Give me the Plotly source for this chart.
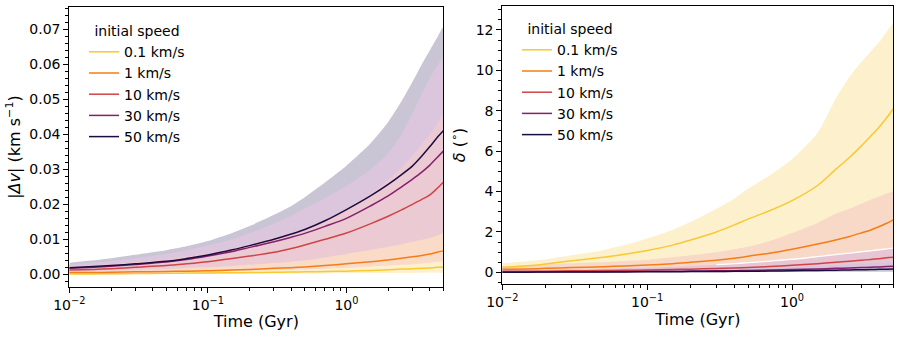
import math
import plotly.graph_objects as go

# ---------------- data ----------------
time_gyr = [0.01, 0.015, 0.02, 0.03, 0.05, 0.07, 0.1, 0.15, 0.2, 0.3, 0.4, 0.5,
            0.7, 1, 1.5, 2, 2.5, 3, 3.5, 4, 4.5, 5]
speed_labels = ["0.1 km/s", "1 km/s", "10 km/s", "30 km/s", "50 km/s"]
line_colors = ["#f8c932", "#f57d15", "#cf4446", "#84206c", "#1b0c41"]

# left panel |Δv| (km/s): median, upper, lower
dv_med_01 = [0.0001, 0.00012, 0.00015, 0.0002, 0.0003, 0.00035, 0.0004, 0.00045, 0.0005, 0.0006, 0.00065,
             0.0007, 0.0008, 0.0009, 0.0011, 0.0013, 0.0015, 0.0016, 0.0017, 0.0018, 0.0020, 0.0021]
dv_med_1 = [0.0005, 0.0005, 0.0006, 0.0007, 0.0008, 0.0009, 0.0010, 0.0012, 0.0014, 0.0017, 0.0019,
            0.0021, 0.0025, 0.0030, 0.0036, 0.0041, 0.0046, 0.0050, 0.0054, 0.0058, 0.0063, 0.0067]
dv_med_10 = [0.0012, 0.0014, 0.0016, 0.0020, 0.0025, 0.0030, 0.0036, 0.0045, 0.0052, 0.0063, 0.0074,
             0.0084, 0.0100, 0.0118, 0.0145, 0.0166, 0.0184, 0.0200, 0.0214, 0.0227, 0.0245, 0.0263]
dv_med_30 = [0.0017, 0.0020, 0.0023, 0.0028, 0.0035, 0.0042, 0.0052, 0.0065, 0.0077, 0.0093, 0.0106,
             0.0117, 0.0137, 0.0160, 0.0196, 0.0224, 0.0250, 0.0272, 0.0292, 0.0312, 0.0333, 0.0352]
dv_med_50 = [0.0019, 0.0022, 0.0025, 0.0030, 0.0037, 0.0045, 0.0055, 0.0070, 0.0082, 0.0100, 0.0115,
             0.0128, 0.0153, 0.0185, 0.0225, 0.0257, 0.0285, 0.0310, 0.0338, 0.0365, 0.0390, 0.0410]

dv_up_01 = [0.0003, 0.00035, 0.0004, 0.0005, 0.0006, 0.0007, 0.0008, 0.0009, 0.0010, 0.0012, 0.0013,
            0.0014, 0.0016, 0.0018, 0.0022, 0.0025, 0.0027, 0.0029, 0.0031, 0.0033, 0.0035, 0.0036]
dv_up_1 = [0.0009, 0.0010, 0.0011, 0.0013, 0.0015, 0.0018, 0.0020, 0.0024, 0.0027, 0.0032, 0.0036,
           0.0040, 0.0048, 0.0058, 0.0070, 0.0079, 0.0086, 0.0093, 0.0099, 0.0104, 0.0110, 0.0117]
dv_up_10 = [0.0022, 0.0026, 0.0029, 0.0035, 0.0043, 0.0051, 0.0060, 0.0074, 0.0085, 0.0105, 0.0118,
            0.0130, 0.0155, 0.0185, 0.0230, 0.0270, 0.0305, 0.0340, 0.0372, 0.0400, 0.0430, 0.0455]
dv_up_30 = [0.0028, 0.0033, 0.0038, 0.0046, 0.0058, 0.0069, 0.0082, 0.0100, 0.0117, 0.0145, 0.0167,
            0.0188, 0.0218, 0.0252, 0.0300, 0.0345, 0.0400, 0.0460, 0.0515, 0.0560, 0.0595, 0.0617]
dv_up_50 = [0.0033, 0.0040, 0.0046, 0.0056, 0.0069, 0.0080, 0.0095, 0.0118, 0.0138, 0.0170, 0.0195,
            0.0220, 0.0262, 0.0310, 0.0375, 0.0435, 0.0495, 0.0550, 0.0600, 0.0640, 0.0675, 0.0705]

dv_lo_01 = [0.00003, 0.00004, 0.00005, 0.00007, 0.00008, 0.0001, 0.0001, 0.00012, 0.00015, 0.0002, 0.0002,
            0.0002, 0.00025, 0.0003, 0.00035, 0.0004, 0.0004, 0.0004, 0.00045, 0.0005, 0.0005, 0.0005]
dv_lo_1 = [0.0001, 0.00012, 0.00015, 0.0002, 0.0002, 0.00025, 0.0003, 0.00035, 0.0004, 0.0005, 0.00055,
           0.0006, 0.0007, 0.0008, 0.00085, 0.0009, 0.00095, 0.0010, 0.0010, 0.0010, 0.0010, 0.0010]
dv_lo_10 = [0.0004, 0.00045, 0.0005, 0.0006, 0.0007, 0.0008, 0.0009, 0.0011, 0.0012, 0.0014, 0.0016,
            0.0017, 0.0019, 0.0022, 0.0025, 0.0028, 0.0030, 0.0032, 0.0034, 0.0035, 0.0037, 0.0038]
dv_lo_30 = [0.0006, 0.0007, 0.0008, 0.0009, 0.0011, 0.0013, 0.0016, 0.0019, 0.0022, 0.0026, 0.0029,
            0.0031, 0.0035, 0.0040, 0.0046, 0.0052, 0.0056, 0.0060, 0.0063, 0.0066, 0.0069, 0.0072]
dv_lo_50 = [0.0007, 0.0008, 0.0009, 0.0010, 0.0012, 0.0015, 0.0018, 0.0022, 0.0025, 0.0029, 0.0032,
            0.0035, 0.0040, 0.0046, 0.0054, 0.0060, 0.0065, 0.0070, 0.0074, 0.0078, 0.0082, 0.0085]

# right panel δ (deg): median, upper, lower
dl_med_01 = [0.25, 0.33, 0.42, 0.57, 0.75, 0.90, 1.08, 1.35, 1.60, 2.00, 2.35,
             2.65, 3.05, 3.55, 4.30, 5.10, 5.70, 6.25, 6.75, 7.20, 7.65, 8.10]
dl_med_1 = [0.15, 0.17, 0.20, 0.24, 0.28, 0.32, 0.36, 0.43, 0.50, 0.60, 0.70,
            0.80, 0.95, 1.15, 1.40, 1.60, 1.78, 1.95, 2.10, 2.27, 2.43, 2.60]
dl_med_10 = [0.05, 0.055, 0.06, 0.075, 0.09, 0.10, 0.12, 0.14, 0.16, 0.19, 0.22,
             0.24, 0.29, 0.35, 0.43, 0.50, 0.55, 0.60, 0.64, 0.68, 0.72, 0.75]
dl_med_30 = [0.02, 0.022, 0.025, 0.03, 0.035, 0.042, 0.05, 0.058, 0.065, 0.075, 0.085,
             0.095, 0.115, 0.14, 0.17, 0.20, 0.22, 0.24, 0.255, 0.27, 0.285, 0.30]
dl_med_50 = [0.01, 0.012, 0.014, 0.017, 0.02, 0.024, 0.028, 0.033, 0.038, 0.045, 0.05,
             0.055, 0.066, 0.08, 0.095, 0.11, 0.12, 0.13, 0.14, 0.15, 0.16, 0.17]

dl_up_01 = [0.45, 0.55, 0.65, 0.85, 1.10, 1.35, 1.68, 2.10, 2.50, 3.15, 3.65,
            4.15, 4.80, 5.60, 6.90, 8.60, 9.70, 10.40, 10.95, 11.40, 11.90, 12.30]
dl_up_1 = [0.30, 0.35, 0.40, 0.45, 0.50, 0.56, 0.62, 0.75, 0.85, 1.00, 1.15,
           1.27, 1.55, 1.95, 2.45, 2.90, 3.15, 3.40, 3.60, 3.75, 3.90, 4.00]
dl_up_10 = [0.10, 0.115, 0.13, 0.15, 0.18, 0.21, 0.24, 0.28, 0.32, 0.38, 0.43,
            0.48, 0.56, 0.65, 0.78, 0.88, 0.95, 1.02, 1.07, 1.12, 1.16, 1.20]
dl_up_30 = [0.05, 0.055, 0.06, 0.07, 0.08, 0.09, 0.10, 0.115, 0.13, 0.16, 0.18,
            0.20, 0.23, 0.27, 0.32, 0.37, 0.40, 0.43, 0.45, 0.47, 0.49, 0.50]
dl_up_50 = [0.025, 0.028, 0.032, 0.038, 0.045, 0.052, 0.06, 0.07, 0.08, 0.095, 0.105,
            0.115, 0.135, 0.16, 0.19, 0.22, 0.24, 0.26, 0.27, 0.28, 0.29, 0.30]

dl_lo_01 = [0.05, 0.065, 0.08, 0.11, 0.14, 0.17, 0.20, 0.25, 0.30, 0.37, 0.43,
            0.48, 0.56, 0.65, 0.80, 0.95, 1.05, 1.15, 1.22, 1.30, 1.38, 1.45]
dl_lo_1 = [0.03, 0.035, 0.04, 0.05, 0.06, 0.07, 0.08, 0.095, 0.11, 0.13, 0.15,
           0.17, 0.20, 0.24, 0.29, 0.33, 0.37, 0.40, 0.43, 0.46, 0.49, 0.52]
dl_lo_10 = [0.01, 0.012, 0.015, 0.018, 0.02, 0.025, 0.03, 0.035, 0.04, 0.05, 0.055,
            0.06, 0.075, 0.09, 0.11, 0.13, 0.14, 0.15, 0.16, 0.17, 0.18, 0.19]
dl_lo_30 = [0.0, 0.003, 0.005, 0.006, 0.008, 0.009, 0.01, 0.012, 0.015, 0.02, 0.022,
            0.025, 0.03, 0.035, 0.043, 0.05, 0.055, 0.06, 0.065, 0.07, 0.075, 0.08]
dl_lo_50 = [0.0, 0.001, 0.002, 0.003, 0.004, 0.005, 0.006, 0.007, 0.008, 0.01, 0.011,
            0.012, 0.015, 0.018, 0.022, 0.025, 0.028, 0.03, 0.032, 0.035, 0.037, 0.04]

band_left_colors = ["#fdf0cd", "#f9dbc7", "#ebcad3", "#dcc6de", "#c9c5d4"]
band_right_colors = ["#fdf0cc", "#f8d8c6", "#e7c5d3", "#d9c3dd", "#c9c5d4"]

dv_med = [dv_med_01, dv_med_1, dv_med_10, dv_med_30, dv_med_50]
dv_up = [dv_up_01, dv_up_1, dv_up_10, dv_up_30, dv_up_50]
dv_lo = [dv_lo_01, dv_lo_1, dv_lo_10, dv_lo_30, dv_lo_50]
dl_med = [dl_med_01, dl_med_1, dl_med_10, dl_med_30, dl_med_50]
dl_up = [dl_up_01, dl_up_1, dl_up_10, dl_up_30, dl_up_50]
dl_lo = [dl_lo_01, dl_lo_1, dl_lo_10, dl_lo_30, dl_lo_50]

FONT = "DejaVu Sans"
fig = go.Figure()


def band(xa, ya, up, lo, color):
    fig.add_trace(go.Scatter(
        x=time_gyr + time_gyr[::-1], y=up + lo[::-1], fill="toself",
        fillcolor=color, line=dict(width=0, shape="spline", smoothing=0.6), mode="lines",
        hoverinfo="skip", showlegend=False, xaxis=xa, yaxis=ya))


# left panel: largest band (50 km/s) drawn first
for i in [4, 3, 2, 1, 0]:
    band("x", "y", dv_up[i], dv_lo[i], band_left_colors[i])
# right panel: largest band (0.1 km/s) drawn first
for i in [0, 1, 2, 3, 4]:
    band("x2", "y2", dl_up[i], dl_lo[i], band_right_colors[i])
    if i == 2:
        fig.add_trace(go.Scatter(x=time_gyr[9:], y=dl_up[2][9:], mode="lines",
                                 line=dict(color="white", width=1.3, shape="spline"),
                                 hoverinfo="skip", showlegend=False,
                                 xaxis="x2", yaxis="y2"))

for i in range(5):
    fig.add_trace(go.Scatter(x=time_gyr, y=dv_med[i], mode="lines",
                             line=dict(color=line_colors[i], width=1.5, shape="spline", smoothing=0.8),
                             name=speed_labels[i], legend="legend",
                             xaxis="x", yaxis="y"))
for i in range(5):
    fig.add_trace(go.Scatter(x=time_gyr, y=dl_med[i], mode="lines",
                             line=dict(color=line_colors[i], width=1.5, shape="spline", smoothing=0.8),
                             name=speed_labels[i], legend="legend2",
                             xaxis="x2", yaxis="y2"))

minor_x = [k * 10 ** e for e in (-2, -1) for k in range(2, 10)] + [2, 3, 4, 5]
xmax = math.log10(5.0)

common_x = dict(type="log", tickmode="array", tickvals=[0.01, 0.1, 1],
                ticktext=["10<sup>−2</sup>", "10<sup>−1</sup>", "10<sup>0</sup>"],
                ticks="outside", ticklen=5, tickwidth=1, tickcolor="black",
                showline=True, linecolor="black", linewidth=1, mirror=True,
                showgrid=False, zeroline=False, automargin=False,
                minor=dict(tickmode="array", tickvals=minor_x, ticks="outside",
                           ticklen=3, tickwidth=1, tickcolor="black", showgrid=False),
                range=[-2, xmax], tickfont=dict(size=14, color="black"),
                title=dict(text="Time (Gyr)", font=dict(size=16, color="black"), standoff=0))
common_y = dict(ticks="outside", ticklen=5, tickwidth=1, tickcolor="black",
                showline=True, linecolor="black", linewidth=1, mirror=True,
                showgrid=False, zeroline=False, automargin=False,
                tickfont=dict(size=14, color="black"))

fig.update_layout(
    template="none",
    width=902, height=338, margin=dict(l=0, r=0, t=0, b=0),
    paper_bgcolor="white", plot_bgcolor="white",
    font=dict(family=FONT, color="black"),
    xaxis=dict(domain=[69.3 / 902, 443.3 / 902], anchor="y", **common_x),
    xaxis2=dict(domain=[502.3 / 902, 893.3 / 902], anchor="y2", **common_x),
    yaxis=dict(domain=[1 - 286.7 / 338, 1 - 7.3 / 338], anchor="x",
               range=[-0.00354, 0.0763], dtick=0.01, tick0=0, tickformat=".2f",
               minor=dict(dtick=0.002, tick0=0, ticks="outside", ticklen=3,
                          tickwidth=1, tickcolor="black", showgrid=False),
               title=dict(text="|<i>Δv</i>| (km s<sup>−1</sup>)",
                          font=dict(size=16, color="black"), standoff=4),
               **common_y),
    yaxis2=dict(domain=[1 - 284.3 / 338, 1 - 5.7 / 338], anchor="x2",
                range=[-0.59, 13.2], dtick=2, tick0=0,
                minor=dict(dtick=0.5, tick0=0, ticks="outside", ticklen=3,
                           tickwidth=1, tickcolor="black", showgrid=False),
                title=dict(text="<i>δ</i> (<sup>∘</sup>)",
                           font=dict(size=16, color="black"), standoff=6),
                **common_y),
    legend=dict(x=84 / 902, y=1 - 18 / 338, xanchor="left", yanchor="top",
                bgcolor="rgba(0,0,0,0)", itemwidth=30, borderwidth=0,
                font=dict(size=14, color="black"),
                title=dict(text="initial speed", side="top center",
                           font=dict(size=14, color="black"))),
    legend2=dict(x=517 / 902, y=1 - 16 / 338, xanchor="left", yanchor="top",
                 bgcolor="rgba(0,0,0,0)", itemwidth=30, borderwidth=0,
                 font=dict(size=14, color="black"),
                 title=dict(text="initial speed", side="top center",
                            font=dict(size=14, color="black"))),
)

fig.write_html("out.html")
